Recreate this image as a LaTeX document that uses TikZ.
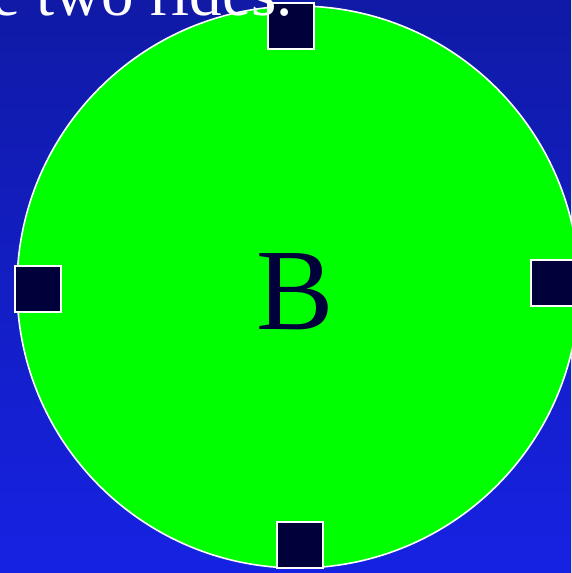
\documentclass[tikz,border=0pt]{standalone}
\usepackage{fontspec}
\setmainfont{Liberation Serif}
\definecolor{bgtop}{RGB}{16,26,166}
\definecolor{bgbot}{RGB}{22,34,226}
\definecolor{navy}{RGB}{0,0,58}
\definecolor{lime}{RGB}{0,255,0}
\begin{document}
\begin{tikzpicture}[x=1pt,y=-1pt,
  port/.style={draw=white,line width=1.8pt,fill=navy,minimum size=46pt,inner sep=0pt,outer sep=0pt},
  disc/.style={circle,draw=white,line width=1.6pt,fill=lime,minimum size=562pt,inner sep=0pt}]
\useasboundingbox (0,0) rectangle (571,573);
\shade[top color=bgtop,bottom color=bgbot] (0,0) rectangle (571,573);
\node[disc] (b) at (298,287) {};
\node[text=navy,font=\fontsize{116}{116}\selectfont] (lbl) at (295,292) {B};
\node[port] (pt) at (291,26) {};
\node[port] (pl) at (38,289) {};
\node[port] (pr) at (554,283) {};
\node[port] (pb) at (300,545) {};
\node[text=white,anchor=base east,inner sep=0pt,font=\fontsize{65}{65}\selectfont] (title) at (293,15) {e two rides.};
\end{tikzpicture}
\end{document}
